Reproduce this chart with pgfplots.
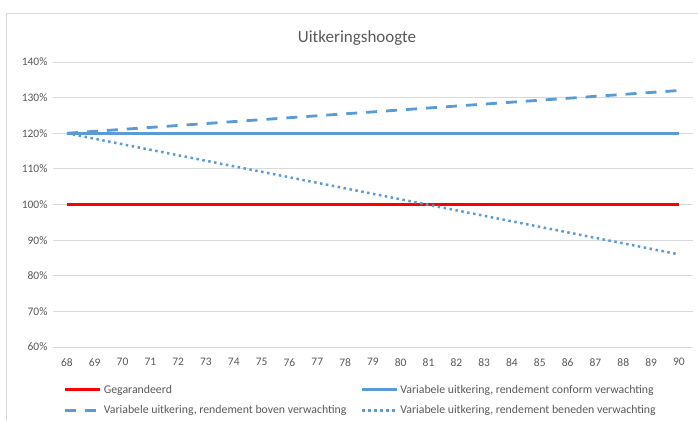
\documentclass[border=0pt]{standalone}
\usepackage{pgfplots}
\pgfplotsset{compat=1.18}
\usepackage{fontspec}
\setmainfont{Carlito}
\definecolor{txtgray}{HTML}{595959}
\definecolor{gridgray}{HTML}{D9D9D9}
\definecolor{framegray}{HTML}{D9D9D9}
\definecolor{xlblue}{HTML}{5B9BD5}
\definecolor{xlred}{HTML}{FF0000}
\begin{document}
\begin{tikzpicture}
\begin{axis}[
  at={(53pt,74pt)}, anchor=south west,
  scale only axis, width=639.8pt, height=285pt,
  xmin=67.5, xmax=90.5, ymin=60, ymax=140,
  xtick={68,...,90}, ytick={60,70,...,140},
  yticklabel={\pgfmathprintnumber{\tick}\%},
  /pgf/number format/assume math mode=true,
  ticklabel style={font=\fontsize{11.5}{13}\selectfont, text=txtgray},
  yticklabel style={xshift=-2pt},
  xticklabel style={yshift=-8pt},
  axis line style={draw=none},
  major tick length=0pt,
  ymajorgrids, grid style={gridgray, line width=0.9pt},
  legend columns=2,
  legend cell align=left,
  legend style={draw=none, fill=none, at={(0.012,-0.118)}, anchor=north west,
    font=\fontsize{11.8}{13.5}\selectfont, text=txtgray,
    /tikz/every even column/.append style={column sep=0pt},
    row sep=7pt},
  legend image code/.code={\draw[#1] (0pt,0pt) -- (35pt,0pt);},
]
\addplot[xlred, line width=3pt] coordinates {(68,100) (90,100)};
\addlegendentry{\makebox[255pt][l]{Gegarandeerd}}
\addplot[xlblue, line width=2.5pt] coordinates {(68,120) (90,120)};
\addlegendentry{Variabele uitkering, rendement conform verwachting}
\addplot[xlblue, line width=2.8pt, dash pattern=on 11pt off 9pt] coordinates {
(68,120) (69,120.545) (70,121.091) (71,121.636) (72,122.182) (73,122.727)
(74,123.273) (75,123.818) (76,124.364) (77,124.909) (78,125.455) (79,126)
(80,126.545) (81,127.091) (82,127.636) (83,128.182) (84,128.727) (85,129.273)
(86,129.818) (87,130.364) (88,130.909) (89,131.455) (90,132)};
\addlegendentry{\makebox[255pt][l]{Variabele uitkering, rendement boven verwachting}}
\addplot[xlblue, line width=2.5pt, dash pattern=on 2.5pt off 3.5pt] coordinates {
(68,120) (69,118.455) (70,116.909) (71,115.364) (72,113.818) (73,112.273)
(74,110.727) (75,109.182) (76,107.636) (77,106.091) (78,104.545) (79,103)
(80,101.455) (81,99.909) (82,98.364) (83,96.818) (84,95.273) (85,93.727)
(86,92.182) (87,90.636) (88,89.091) (89,87.545) (90,86)};
\addlegendentry{Variabele uitkering, rendement beneden verwachting}
\end{axis}
\draw[framegray,line width=0.8pt] (6pt,0pt) -- (6pt,408pt) -- (698pt,408pt);
\node[txtgray,font=\fontsize{17}{20}\selectfont] at (357pt,383pt) {Uitkeringshoogte};
\pgfresetboundingbox
\path[use as bounding box] (0pt,0pt) rectangle (698pt,421pt);
\end{tikzpicture}
\end{document}
